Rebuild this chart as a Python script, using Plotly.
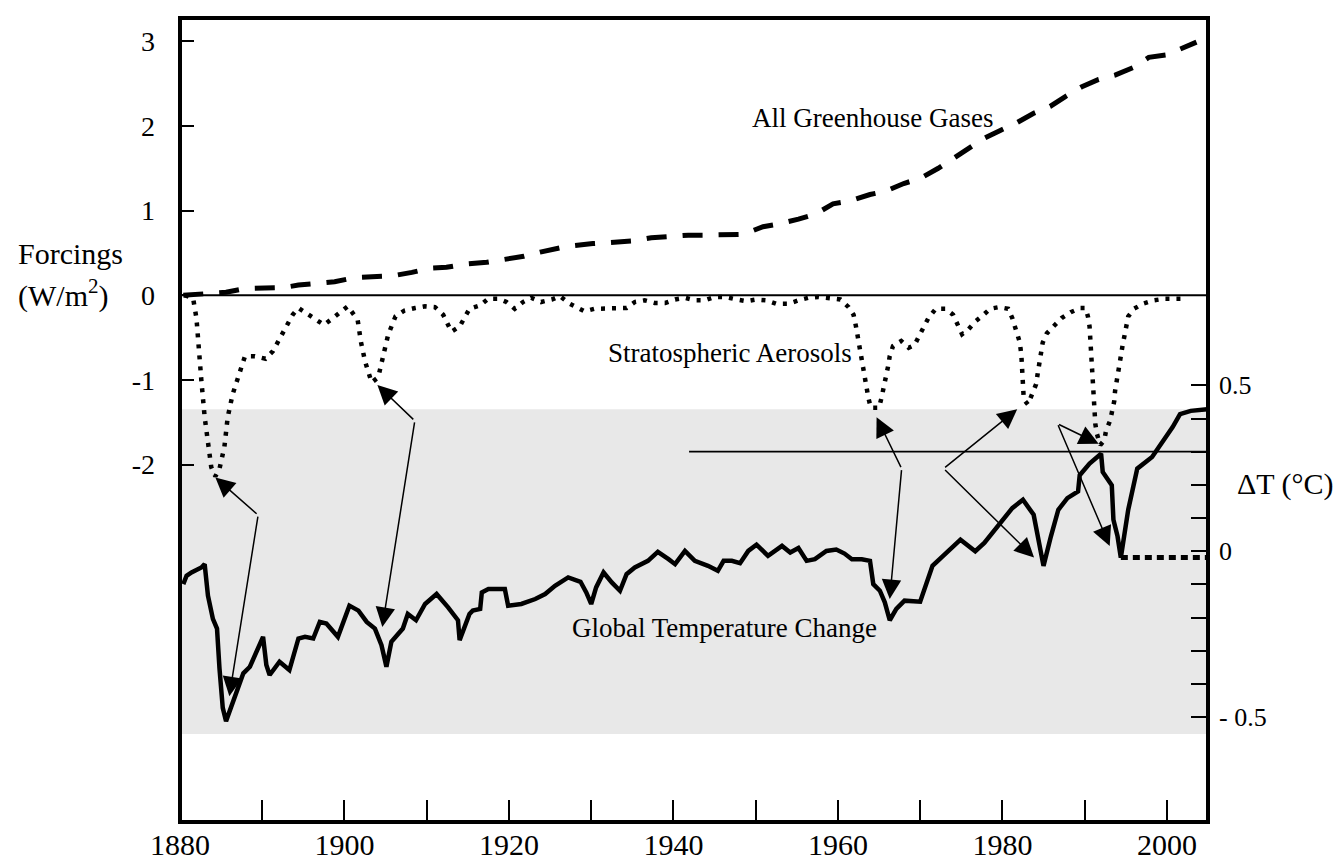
import plotly.graph_objects as go

# ---------------- data ----------------
ghg_year = [1880.4, 1885.6, 1887.9, 1889.9, 1892.5, 1894.4, 1897.0, 1898.8, 1901.3, 1903.2,
            1905.9, 1908.2, 1910.4, 1912.4, 1914.8, 1917.3, 1919.3, 1921.8, 1923.8, 1925.7,
            1927.2, 1930.2, 1932.9, 1934.9, 1937.3, 1939.4, 1941.8, 1943.9, 1946.4, 1948.5,
            1950.9, 1952.7, 1955.2, 1957.3, 1959.4, 1961.3, 1963.9, 1965.8, 1968.0, 1970.0,
            1972.2, 1973.8, 1975.9, 1977.7, 1979.8, 1981.6, 1983.8, 1985.8, 1987.7, 1989.6,
            1991.7, 1993.7, 1995.9, 1997.8, 2000.0, 2001.8, 2003.6]
ghg_forcing = [0.00, 0.035, 0.08, 0.09, 0.09, 0.12, 0.14, 0.16, 0.21, 0.22,
               0.23, 0.27, 0.32, 0.33, 0.37, 0.39, 0.42, 0.46, 0.51, 0.55,
               0.58, 0.61, 0.63, 0.64, 0.68, 0.70, 0.71, 0.71, 0.71, 0.72,
               0.81, 0.84, 0.90, 0.96, 1.08, 1.11, 1.19, 1.23, 1.32, 1.38,
               1.50, 1.60, 1.73, 1.85, 1.95, 2.03, 2.15, 2.23, 2.35, 2.46,
               2.55, 2.60, 2.69, 2.81, 2.84, 2.92, 2.99]

aer_year = [1880.6, 1881.6, 1882.0, 1882.2, 1882.6, 1883.0, 1883.4, 1883.8, 1884.3, 1884.8,
            1885.4, 1885.8, 1886.4, 1887.1, 1887.9, 1889.1, 1890.4, 1891.3, 1892.5, 1893.7,
            1894.4, 1895.6, 1897.5, 1898.6, 1900.4, 1901.6, 1902.0, 1902.5, 1903.3, 1904.1,
            1904.7, 1905.3, 1906.2, 1907.3, 1908.6, 1909.8, 1911.0, 1912.0, 1913.0, 1914.0,
            1915.2, 1916.5, 1917.5, 1918.7, 1919.7, 1920.7, 1921.7, 1922.7, 1923.9, 1925.2,
            1926.2, 1927.4, 1928.2, 1929.2, 1930.4, 1931.7, 1933.1, 1934.3, 1935.3, 1936.5,
            1937.7, 1939.0, 1940.2, 1941.4, 1942.6, 1943.8, 1945.0, 1946.3, 1947.7, 1948.9,
            1950.1, 1951.3, 1952.5, 1954.0, 1955.2, 1956.4, 1957.6, 1958.8, 1960.3, 1961.3,
            1961.9, 1962.2, 1962.4, 1962.7, 1962.9, 1963.1, 1963.3, 1963.5, 1963.7, 1964.0,
            1965.0, 1965.3, 1965.6, 1965.9, 1966.1, 1966.3, 1966.7, 1967.7, 1968.6, 1969.3,
            1969.9, 1971.0, 1971.9, 1973.1, 1974.0, 1974.6, 1975.1, 1975.8, 1976.7, 1977.6,
            1978.5, 1979.6, 1980.7, 1981.2, 1981.6, 1982.1, 1982.3, 1982.4, 1982.5, 1982.55,
            1982.6, 1983.1, 1983.6, 1984.1, 1984.3, 1984.5, 1984.6, 1984.9, 1985.4, 1986.3,
            1987.2, 1988.3, 1989.5, 1990.1, 1990.4, 1990.6, 1990.7, 1990.8, 1990.85, 1990.9,
            1991.0, 1991.05, 1991.2, 1991.3, 1991.5, 1991.9, 1992.4, 1992.6, 1993.1, 1993.4,
            1993.6, 1993.7, 1993.9, 1994.2, 1994.4, 1994.6, 1994.8, 1995.1, 1995.3, 1996.0,
            1997.1, 1998.4, 1999.8, 2000.9, 2002.3]
aer_forcing = [0.00, -0.04, -0.27, -0.55, -1.01, -1.44, -1.79, -2.03, -2.14, -2.05,
               -1.79, -1.44, -1.17, -0.94, -0.72, -0.72, -0.75, -0.66, -0.45, -0.23,
               -0.15, -0.23, -0.35, -0.27, -0.13, -0.29, -0.55, -0.78, -1.03, -0.97,
               -0.72, -0.47, -0.25, -0.18, -0.15, -0.13, -0.14, -0.23, -0.43, -0.37,
               -0.16, -0.12, -0.04, -0.04, -0.08, -0.16, -0.08, -0.03, -0.08, -0.05,
               -0.01, -0.10, -0.14, -0.19, -0.16, -0.16, -0.16, -0.15, -0.08, -0.06,
               -0.09, -0.09, -0.05, -0.03, -0.06, -0.06, -0.02, -0.02, -0.05, -0.07,
               -0.05, -0.06, -0.10, -0.10, -0.06, -0.03, -0.02, -0.03, -0.05, -0.14,
               -0.23, -0.37, -0.49, -0.60, -0.72, -0.84, -0.97, -1.09, -1.21, -1.33,
               -1.33, -1.21, -1.09, -0.96, -0.84, -0.72, -0.60, -0.54, -0.62, -0.59,
               -0.47, -0.27, -0.16, -0.16, -0.23, -0.35, -0.46, -0.41, -0.31, -0.24,
               -0.16, -0.14, -0.16, -0.27, -0.39, -0.55, -0.70, -0.88, -1.01, -1.13,
               -1.23, -1.29, -1.17, -1.05, -0.92, -0.80, -0.68, -0.56, -0.45, -0.35,
               -0.27, -0.20, -0.15, -0.15, -0.25, -0.37, -0.53, -0.66, -0.82, -0.97,
               -1.13, -1.27, -1.40, -1.52, -1.64, -1.77, -1.71, -1.60, -1.48, -1.36,
               -1.25, -1.13, -0.99, -0.86, -0.72, -0.60, -0.49, -0.37, -0.25, -0.16,
               -0.10, -0.06, -0.04, -0.04, -0.04]

temp_year = [1880.4, 1880.8, 1881.4, 1882.6, 1883.0, 1883.4, 1884.0, 1884.5, 1884.8, 1885.2,
             1885.6, 1886.2, 1887.1, 1887.7, 1888.5, 1889.5, 1890.1, 1890.5, 1890.9, 1892.1,
             1893.3, 1894.4, 1895.2, 1896.2, 1897.0, 1897.8, 1899.2, 1900.6, 1901.7, 1902.7,
             1903.7, 1904.5, 1905.1, 1905.7, 1907.1, 1907.7, 1908.7, 1909.8, 1911.2, 1912.6,
             1913.8, 1914.0, 1915.2, 1915.6, 1916.5, 1916.7, 1917.5, 1919.5, 1919.9, 1921.5,
             1923.2, 1924.4, 1925.6, 1927.2, 1928.7, 1929.4, 1930.0, 1930.6, 1931.5, 1932.5,
             1933.5, 1934.3, 1935.3, 1936.9, 1938.1, 1939.4, 1940.2, 1941.4, 1942.6, 1944.2,
             1945.4, 1946.1, 1947.1, 1948.1, 1949.1, 1950.1, 1951.5, 1953.2, 1954.2, 1955.2,
             1956.2, 1957.2, 1958.6, 1959.8, 1960.8, 1961.7, 1962.9, 1963.9, 1964.3, 1965.1,
             1965.7, 1966.3, 1967.1, 1968.1, 1970.0, 1971.5, 1972.9, 1974.9, 1976.7, 1977.8,
             1981.2, 1982.5, 1983.8, 1984.5, 1985.0, 1985.9, 1986.8, 1987.9, 1989.2, 1989.4,
             1990.6, 1992.0, 1992.2, 1993.3, 1993.5, 1994.0, 1994.4, 1995.3, 1996.4, 1998.2,
             2000.7, 2001.6, 2002.9, 2004.9]
temp_dT = [-0.099, -0.074, -0.064, -0.049, -0.039, -0.134, -0.204, -0.233, -0.353, -0.472,
           -0.512, -0.472, -0.413, -0.368, -0.348, -0.293, -0.258, -0.343, -0.373, -0.333,
           -0.358, -0.263, -0.258, -0.263, -0.213, -0.218, -0.258, -0.164, -0.179, -0.213,
           -0.233, -0.283, -0.348, -0.273, -0.233, -0.189, -0.208, -0.159, -0.129, -0.169,
           -0.208, -0.268, -0.189, -0.179, -0.174, -0.124, -0.114, -0.114, -0.164, -0.159,
           -0.144, -0.129, -0.104, -0.079, -0.092, -0.124, -0.159, -0.109, -0.064, -0.094,
           -0.119, -0.069, -0.049, -0.029, -0.002, -0.024, -0.039, 0.001, -0.029, -0.044,
           -0.059, -0.029, -0.029, -0.036, 0.001, 0.020, -0.014, 0.016, -0.004, 0.010,
           -0.029, -0.024, 0.001, 0.005, -0.007, -0.024, -0.024, -0.029, -0.099, -0.119,
           -0.154, -0.208, -0.174, -0.149, -0.152, -0.044, -0.010, 0.035, 0.000, 0.025,
           0.130, 0.155, 0.110, 0.025, -0.044, 0.045, 0.125, 0.160, 0.180, 0.229,
           0.264, 0.294, 0.239, 0.199, 0.095, 0.045, -0.019, 0.125, 0.249, 0.284,
           0.374, 0.413, 0.423, 0.428]

temp_flat_year = [1994.4, 2004.9]
temp_flat_dT = [-0.019, -0.019]

# volcano arrows: common tail, tip on aerosol dip, tip on temperature dip (in dT units)
arrow_tail_year = [1889.5, 1908.55, 1967.75, 1972.85, 1986.7]
arrow_tail_dT = [0.109, 0.393, 0.249, 0.249, 0.384]
arrow_aer_year = [1884.3, 1904.0, 1964.7, 1981.8, 1991.7]
arrow_aer_dT = [0.222, 0.501, 0.404, 0.428, 0.324]
arrow_tmp_year = [1886.0, 1904.6, 1966.3, 1983.85, 1993.05]
arrow_tmp_dT = [-0.437, -0.228, -0.144, -0.019, 0.016]

x_ticks = [1880, 1900, 1920, 1940, 1960, 1980, 2000]
x_labels = ['1880', '1900', '1920', '1940', '1960', '1980', '2000']
y_ticks = [-2, -1, 0, 1, 2, 3]
y_labels = ['-2', '-1', '0', '1', '2', '3']
y2_ticks = [-0.5, 0.0, 0.5]
y2_labels = ['- 0.5', '0', '0.5']

shade_dT = [-0.551, 0.428]
ref_line_dT = 0.3
ref_line_start = 1941.9

FONT = 'Liberation Serif'

fig = go.Figure()
fig.add_trace(go.Scatter(x=ghg_year, y=ghg_forcing, mode='lines', yaxis='y',
                         line=dict(color='black', width=5, dash='20px,16px'), showlegend=False))
fig.add_trace(go.Scatter(x=aer_year, y=aer_forcing, mode='lines', yaxis='y',
                         line=dict(color='black', width=4.5, dash='4px,7px'), showlegend=False))
fig.add_trace(go.Scatter(x=temp_year, y=temp_dT, mode='lines', yaxis='y2',
                         line=dict(color='black', width=4.5), showlegend=False))
fig.add_trace(go.Scatter(x=temp_flat_year, y=temp_flat_dT, mode='lines', yaxis='y2',
                         line=dict(color='black', width=5, dash='7px,5px'), showlegend=False))

shapes = [
    dict(type='rect', xref='x', yref='y2', x0=1880, x1=2005, y0=shade_dT[0], y1=shade_dT[1],
         fillcolor='#e8e8e8', line=dict(width=0), layer='below'),
    dict(type='line', xref='x', yref='y', x0=1880, x1=2005, y0=0, y1=0,
         line=dict(color='black', width=1.8)),
    dict(type='line', xref='x', yref='y2', x0=ref_line_start, x1=2005, y0=ref_line_dT, y1=ref_line_dT,
         line=dict(color='black', width=1.8)),
    dict(type='rect', xref='paper', yref='paper', x0=0, x1=1, y0=0, y1=1,
         line=dict(color='black', width=4), layer='above'),
]

annotations = []
for i in range(len(arrow_tail_year)):
    for tx, ty in ((arrow_aer_year[i], arrow_aer_dT[i]), (arrow_tmp_year[i], arrow_tmp_dT[i])):
        annotations.append(dict(x=tx, y=ty, xref='x', yref='y2', ax=arrow_tail_year[i], ay=arrow_tail_dT[i],
                                axref='x', ayref='y2', text='', showarrow=True, arrowhead=2,
                                arrowsize=2.6, arrowwidth=1.5, arrowcolor='black', standoff=0))

txt = dict(family=FONT, size=27, color='black')
annotations += [
    dict(x=1964.2, y=2.09, xref='x', yref='y', text='All Greenhouse Gases', showarrow=False, font=txt),
    dict(x=1946.9, y=-0.68, xref='x', yref='y', text='Stratospheric Aerosols', showarrow=False, font=txt),
    dict(x=1946.2, y=-0.231, xref='x', yref='y2', text='Global Temperature Change', showarrow=False, font=txt),
    dict(x=-0.1595, y=0.27, xref='paper', yref='y', text='Forcings', showarrow=False, xanchor='left',
         yanchor='bottom', font=dict(family=FONT, size=30, color='black')),
    dict(x=-0.1595, y=0.27, xref='paper', yref='y', text='(W/m<sup>2</sup>)', showarrow=False, xanchor='left',
         yanchor='top', font=dict(family=FONT, size=30, color='black')),
    dict(x=1.0265, y=0.204, xref='paper', yref='y2', text='\u0394T (\u00b0C)', showarrow=False, xanchor='left',
         font=dict(family=FONT, size=30, color='black')),
]

fig.update_layout(
    width=1344, height=863,
    margin=dict(l=172, r=144, t=10, b=41),
    paper_bgcolor='white', plot_bgcolor='white',
    font=dict(family=FONT, color='black'),
    shapes=shapes, annotations=annotations,
    xaxis=dict(range=[1880, 2005], tickvals=x_ticks, ticktext=x_labels, ticks='inside', ticklen=22,
               tickwidth=1.5, tickcolor='black', showgrid=False, zeroline=False, showline=False,
               minor=dict(ticks='inside', ticklen=22, tickwidth=1.5, tickcolor='black',
                          tick0=1880, dtick=10, showgrid=False),
               tickfont=dict(family=FONT, size=30, color='black'), ticklabelstandoff=2),
    yaxis=dict(range=[-6.222, 3.275], tickvals=y_ticks, ticktext=y_labels, ticks='inside', ticklen=14,
               tickwidth=2, tickcolor='black', showgrid=False, zeroline=False, showline=False,
               tickfont=dict(family=FONT, size=28, color='black'), ticklabelstandoff=24),
    yaxis2=dict(range=[-0.816, 1.607], tickvals=y2_ticks, ticktext=y2_labels, ticks='inside', ticklen=17,
                tickwidth=2, tickcolor='black', showgrid=False, zeroline=False, showline=False,
                minor=dict(ticks='inside', ticklen=17, tickwidth=2, tickcolor='black',
                           tickvals=[-0.4, -0.3, -0.2, -0.1, 0.1, 0.2, 0.3, 0.4], showgrid=False),
                overlaying='y', side='right',
                tickfont=dict(family=FONT, size=26, color='black'), ticklabelstandoff=10),
)

fig.write_html('out.html')
